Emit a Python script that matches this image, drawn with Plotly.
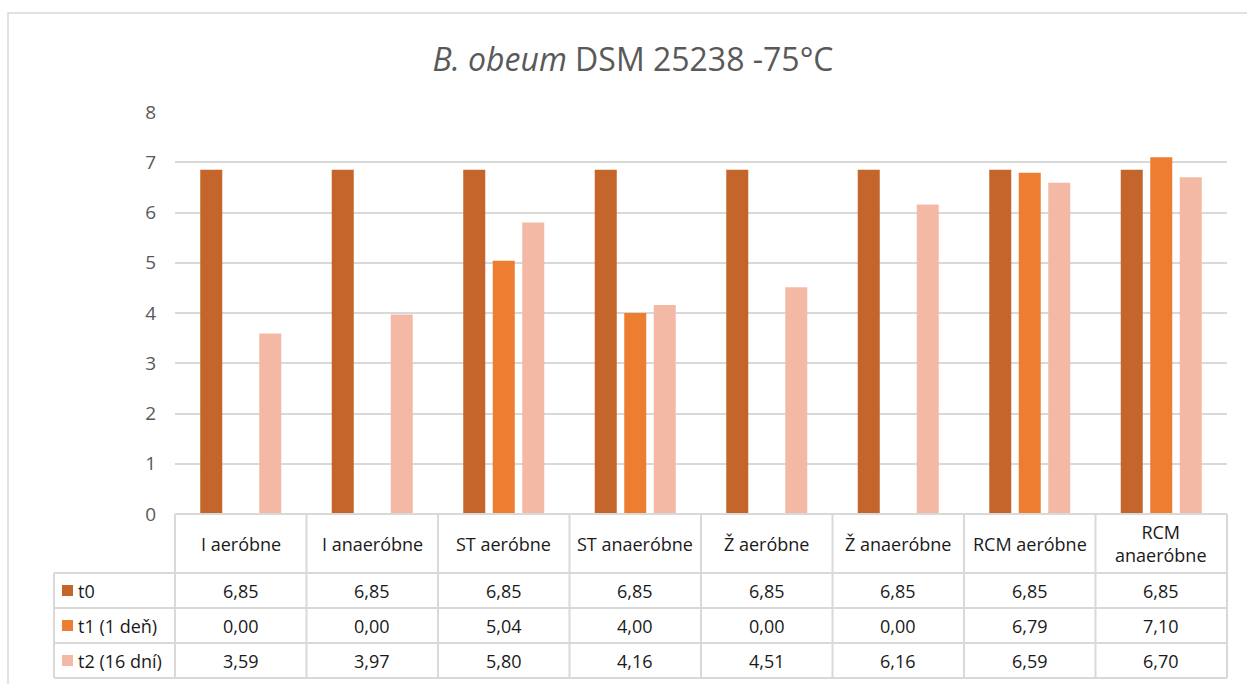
import plotly.graph_objects as go

# Data
categories = ["I aeróbne", "I anaeróbne", "ST aeróbne", "ST anaeróbne",
              "Ž aeróbne", "Ž anaeróbne", "RCM aeróbne", "RCM anaeróbne"]
category_labels = ["I aeróbne", "I anaeróbne", "ST aeróbne", "ST anaeróbne",
                   "Ž aeróbne", "Ž anaeróbne", "RCM aeróbne", "RCM<br>anaeróbne"]
series_names = ["t0", "t1 (1 deň)", "t2 (16 dní)"]
t0 = [6.85, 6.85, 6.85, 6.85, 6.85, 6.85, 6.85, 6.85]
t1 = [0.00, 0.00, 5.04, 4.00, 0.00, 0.00, 6.79, 7.10]
t2 = [3.59, 3.97, 5.80, 4.16, 4.51, 6.16, 6.59, 6.70]
y_ticks = [0, 1, 2, 3, 4, 5, 6, 7, 8]

colors = ["#C4652B", "#ED7D31", "#F4B9A5"]
series_values = [t0, t1, t2]

W, H = 1247, 684
L, R, T, B = 175, 20, 112, 170  # plot area: x 175..1227, y 112..514
FONT = "Open Sans"
GRID = "#D9D9D9"

fig = go.Figure()
for name, vals, col in zip(series_names, series_values, colors):
    fig.add_trace(go.Bar(x=categories, y=vals, name=name, marker_color=col,
                         marker_line_width=0, showlegend=False))


def py(pix):
    """Pixel row -> paper y."""
    return (H - pix - B) / (H - T - B)


def px(pix):
    """Pixel column -> paper x."""
    return (pix - L) / (W - L - R)


x0_px, x1_px = L, W - R
leg_left = 54
row_edges = [514, 573, 608, 643, 678]
col_w = (x1_px - x0_px) / len(categories)

shapes = []
line = dict(color=GRID, width=2)
# horizontal table lines
shapes.append(dict(type="line", xref="paper", yref="paper", x0=px(x0_px), x1=px(x1_px),
                   y0=py(row_edges[0]), y1=py(row_edges[0]), line=line))
for r in row_edges[1:]:
    shapes.append(dict(type="line", xref="paper", yref="paper", x0=px(leg_left), x1=px(x1_px),
                       y0=py(r), y1=py(r), line=line))
# vertical table lines
shapes.append(dict(type="line", xref="paper", yref="paper", x0=px(leg_left), x1=px(leg_left),
                   y0=py(row_edges[1]), y1=py(row_edges[-1]), line=line))
for i in range(len(categories) + 1):
    xx = x0_px + i * col_w
    shapes.append(dict(type="line", xref="paper", yref="paper", x0=px(xx), x1=px(xx),
                       y0=py(row_edges[0]), y1=py(row_edges[-1]), line=line))
# chart outer border
shapes.append(dict(type="rect", xref="paper", yref="paper", x0=px(8), x1=px(1260),
                   y0=py(700), y1=py(13), line=dict(color=GRID, width=1.5)))

annotations = []
txt_font = dict(family=FONT, size=18, color="#1a1a1a")
# header row with category names
for i, lab in enumerate(category_labels):
    annotations.append(dict(xref="x", yref="paper", x=categories[i],
                            y=py((row_edges[0] + row_edges[1]) / 2), text=lab,
                            showarrow=False, font=txt_font, xanchor="center", yanchor="middle"))
# data rows
for r, (name, vals, col) in enumerate(zip(series_names, series_values, colors)):
    ymid = (row_edges[r + 1] + row_edges[r + 2]) / 2
    yc = py(ymid)
    for i, v in enumerate(vals):
        annotations.append(dict(xref="x", yref="paper", x=categories[i], y=yc,
                                text=f"{v:.2f}".replace(".", ","), showarrow=False,
                                font=txt_font, xanchor="center", yanchor="middle"))
    # legend key square and series name
    shapes.append(dict(type="rect", xref="paper", yref="paper", x0=px(62), x1=px(73),
                       y0=py(ymid + 5.5), y1=py(ymid - 5.5), fillcolor=col, line_width=0))
    annotations.append(dict(xref="paper", yref="paper", x=px(76), y=yc, text=name,
                            showarrow=False, font=txt_font, xanchor="left", yanchor="middle"))

fig.update_layout(
    width=W, height=H,
    margin=dict(l=L, r=R, t=T, b=B),
    paper_bgcolor="white", plot_bgcolor="white",
    barmode="group", bargap=0.327, bargroupgap=0.254,
    title=dict(text="<i>B. obeum</i> DSM 25238 -75°C", x=633 / W, xref="container",
               xanchor="center", y=1 - 60 / H, yanchor="middle",
               font=dict(family=FONT, size=32, color="#595959")),
    xaxis=dict(showticklabels=False, showgrid=False, zeroline=False, showline=False,
               ticks=""),
    yaxis=dict(range=[0, 8], tickvals=y_ticks, showgrid=True, gridcolor=GRID, gridwidth=2,
               zeroline=False, showline=False, ticks="", ticklabelstandoff=18,
               tickfont=dict(family=FONT, size=19, color="#595959")),
    shapes=shapes,
    annotations=annotations,
)

fig.write_html("out.html")
